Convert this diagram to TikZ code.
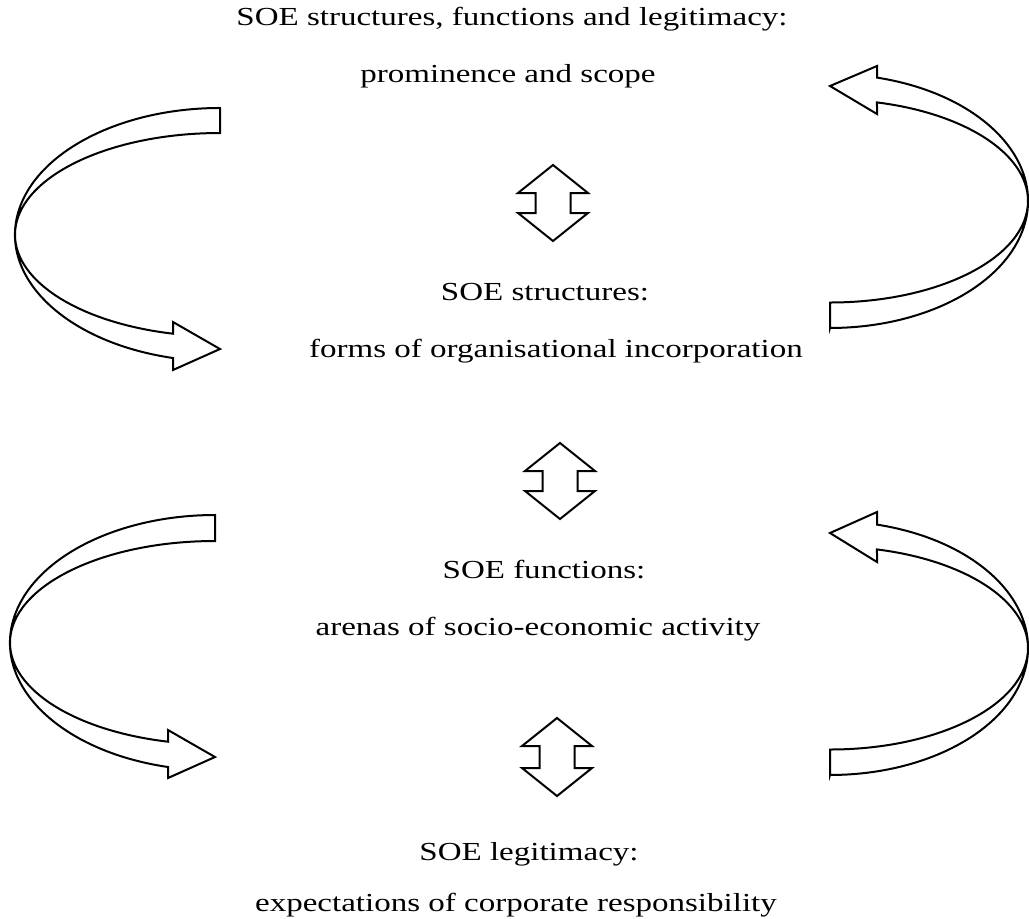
\documentclass[tikz,border=0pt]{standalone}
\usepackage{fontspec}
\setmainfont{Liberation Serif}[FakeStretch=1.27]
\usepackage{tikz}
\tikzset{caption/.style={anchor=base, inner sep=0pt, font=\fontsize{13}{15}\selectfont},
         band/.style={draw, line width=1pt, line join=miter, fill=white},
         twoway/.style={draw, line width=1pt, line join=miter}}
\newcommand{\twoway}[3]{%
  \draw[twoway] (#1,#2) -- ++(35,28) -- ++(-17.5,0) -- ++(0,#3) -- ++(17.5,0)
    -- ++(-35,28) -- ++(-35,-28) -- ++(17.5,0) -- ++(0,-#3) -- ++(-17.5,0) -- cycle;}

\begin{document}
\begin{tikzpicture}[x=0.5pt, y=-0.5pt]
      \useasboundingbox (0,0) rectangle (1029,918);

      \node[caption] (scope1) at (512,25) {SOE structures, functions and legitimacy:};
      \node[caption] (scope2) at (508,82) {prominence and scope};
      \node[caption] (struct1) at (545,300) {SOE structures:};
      \node[caption] (struct2) at (556,357) {forms of organisational incorporation};
      \node[caption] (func1) at (544,578) {SOE functions:};
      \node[caption] (func2) at (538,635) {arenas of socio-economic activity};
      \node[caption] (legit1) at (529,860) {SOE legitimacy:};
      \node[caption] (legit2) at (516,911) {expectations of corporate responsibility};

      \twoway{553}{165}{20}
      \twoway{560}{443}{20}
      \twoway{557}{718}{22}

      \draw[band] (220,108) -- (220,133)
        arc[start angle=90, end angle=256.75, x radius=102.5pt, y radius=50.85pt]
        -- (173,322) -- (220,349) -- (173,370) -- (173,358)
        arc[start angle=256.75, end angle=90, x radius=102.5pt, y radius=63.35pt] -- cycle;
      \draw[band] (830,328) -- (830,302.5)
        arc[start angle=-90, end angle=76.27, x radius=99pt, y radius=50.75pt]
        -- (877,114) -- (830,86) -- (877,66) -- (877,77.6)
        arc[start angle=76.27, end angle=-90, x radius=99pt, y radius=63.5pt] -- cycle;
      \draw[band] (215,515) -- (215,541)
        arc[start angle=90, end angle=256.75, x radius=102.5pt, y radius=50.85pt]
        -- (168,730) -- (215,757) -- (168,778) -- (168,767)
        arc[start angle=256.75, end angle=90, x radius=102.5pt, y radius=63.85pt] -- cycle;
      \draw[band] (830,775) -- (830,749.5)
        arc[start angle=-90, end angle=76.27, x radius=99pt, y radius=50.75pt]
        -- (877,562) -- (830,533) -- (877,512) -- (877,524.6)
        arc[start angle=76.27, end angle=-90, x radius=99pt, y radius=63.5pt] -- cycle;
\end{tikzpicture}
\end{document}
